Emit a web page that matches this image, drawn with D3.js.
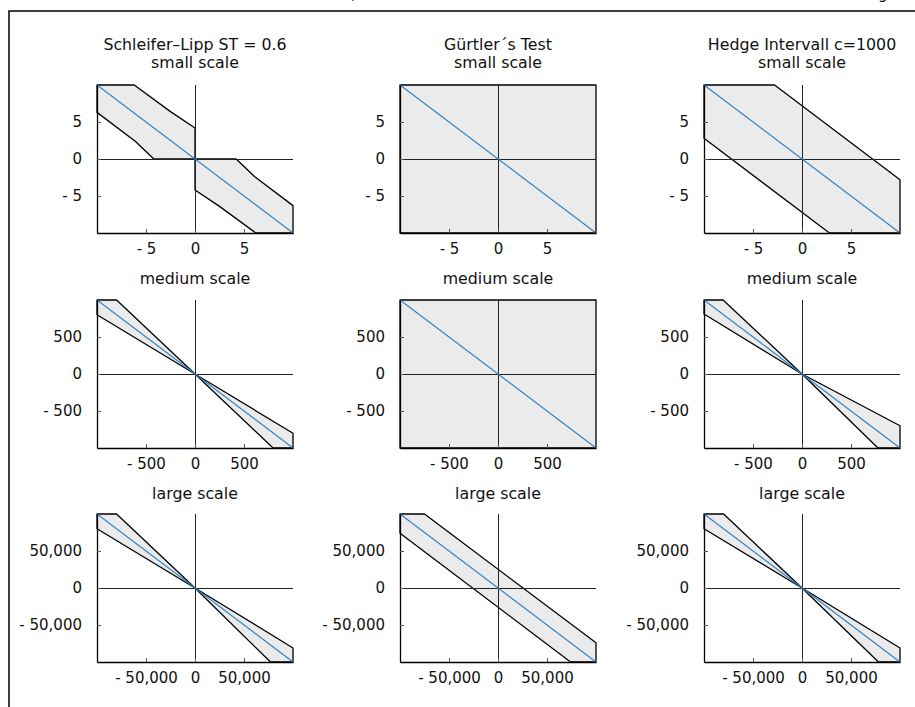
<!DOCTYPE html>
<html>
<head>
<meta charset="utf-8">
<script src="https://cdn.jsdelivr.net/npm/d3@7"></script>
<style>
  body { margin: 0; background: #fff; }
  text { font-family: "DejaVu Sans", sans-serif; font-size: 15px; fill: #111; }
  .title { font-size: 15.8px; }
</style>
</head>
<body>
<svg id="chart" width="915" height="707"></svg>
<script>
'use strict'

// column / row labels
var methods = ["Schleifer\u2013Lipp ST = 0.6", "G\u00fcrtler\u00b4s Test", "Hedge Intervall c=1000"]
var scales = ["small scale", "medium scale", "large scale"]

// axis extent of each row and its ticks
var extents = [10, 1000, 100000]
var tickVals = [[-5, 0, 5], [-500, 0, 500], [-50000, 0, 50000]]

// shaded acceptance regions (data units)
// regions[row][col] = list of polygons
var slSmall = [
	[[-10, 10], [-6.2, 10], [-2.5, 6.4], [0, 4.2], [0, 0], [-4.2, 0], [-6.1, 2.4], [-10, 6.3]],
	[[10, -10], [6.2, -10], [2.5, -6.4], [0, -4.2], [0, 0], [4.2, 0], [6.1, -2.4], [10, -6.3]]
]
var slMedium = [
	[[0, 0], [-800, 1000], [-1000, 1000], [-1000, 800]],
	[[0, 0], [1000, -800], [1000, -1000], [797, -1000]]
]
var slLarge = [
	[[0, 0], [-80000, 100000], [-100000, 100000], [-100000, 80000]],
	[[0, 0], [100000, -81000], [100000, -100000], [77000, -100000]]
]
var guSmall = [[[-10, 10], [10, 10], [10, -10], [-10, -10]]]
var guMedium = [[[-1000, 1000], [1000, 1000], [1000, -1000], [-1000, -1000]]]
var guLarge = [
	[[-100000, 100000], [-75000, 100000], [100000, -74000], [100000, -100000], [74000, -100000], [-100000, 74000]]
]
var heSmall = [[[-10, 10], [-2.8, 10], [10, -2.8], [10, -10], [2.8, -10], [-10, 2.8]]]
var heMedium = [
	[[0, 0], [-805, 1000], [-1000, 1000], [-1000, 810]],
	[[0, 0], [1000, -700], [1000, -1000], [775, -1000]]
]
var heLarge = [
	[[0, 0], [-80000, 100000], [-100000, 100000], [-100000, 80000]],
	[[0, 0], [100000, -81000], [100000, -100000], [78000, -100000]]
]
var regions = [
	[slSmall, guSmall, heSmall],
	[slMedium, guMedium, heMedium],
	[slLarge, guLarge, heLarge]
]

var colX = [97, 400, 704]
var rowY = [85, 300, 514]
var titleY = [68, 284, 499]
var pw = 196, ph = 148

var svg = d3.select("#chart")

// frame and cut-off heading above it
svg.append("path")
	.attr("d", "M9,707V11H915")
	.attr("fill", "none")
	.attr("stroke", "#000")
	.attr("stroke-width", 1.5)
svg.append("text").attr("x", 351).attr("y", -1).text(",")
svg.append("text").attr("x", 878).attr("y", -1).text("g")

var comma = d3.format(",")
function fmt(v){
	return v < 0 ? "- " + comma(-v) : comma(v)
}

methods.forEach(function(m, c){
	svg.append("text")
		.attr("class", "title")
		.attr("x", colX[c] + pw / 2)
		.attr("y", 50)
		.attr("text-anchor", "middle")
		.text(m)
})

scales.forEach(function(s, r){
	var ext = extents[r]
	var x = d3.scaleLinear().domain([-ext, ext]).range([0, pw])
	var y = d3.scaleLinear().domain([-ext, ext]).range([ph, 0])
	var line = d3.line().x(function(d){ return x(d[0]) }).y(function(d){ return y(d[1]) })

	methods.forEach(function(m, c){
		var g = svg.append("g").attr("transform", "translate(" + colX[c] + "," + rowY[r] + ")")

		svg.append("text")
			.attr("class", "title")
			.attr("x", colX[c] + pw / 2)
			.attr("y", titleY[r])
			.attr("text-anchor", "middle")
			.text(s)

		g.selectAll(".reg")
			.data(regions[r][c])
			.enter().append("path")
			.attr("class", "reg")
			.attr("d", function(d){ return line(d) + "Z" })
			.attr("fill", "#ebebeb")
			.attr("stroke", "#000")
			.attr("stroke-width", 1.3)
			.attr("stroke-linejoin", "round")

		// axes through origin
		g.append("line")
			.attr("x1", x(0) + 0.5).attr("x2", x(0) + 0.5)
			.attr("y1", 0).attr("y2", ph)
			.attr("stroke", "#222").attr("stroke-width", 1)
		g.append("line")
			.attr("x1", 0).attr("x2", pw)
			.attr("y1", y(0) + 0.5).attr("y2", y(0) + 0.5)
			.attr("stroke", "#222").attr("stroke-width", 1)

		// y = -x reference
		g.append("path")
			.attr("d", line([[-ext, ext], [ext, -ext]]))
			.attr("fill", "none")
			.attr("stroke", "#3583c2")
			.attr("stroke-width", 1.2)

		var ya = g.append("g")
			.call(d3.axisLeft(y).tickValues(tickVals[r]).tickFormat(fmt)
				.tickSizeInner(-4).tickSizeOuter(0).tickPadding(15))
		var xa = g.append("g")
			.attr("transform", "translate(0," + ph + ")")
			.call(d3.axisBottom(x).tickValues(tickVals[r]).tickFormat(fmt)
				.tickSizeInner(-4).tickSizeOuter(0).tickPadding(10))

		;[ya, xa].forEach(function(a){
			a.selectAll("text").attr("font-family", null).attr("font-size", null)
			a.select(".domain").attr("stroke", "#000").attr("stroke-width", 1.3)
			a.selectAll(".tick line").attr("stroke", "#555")
		})
	})
})
</script>
</body>
</html>
